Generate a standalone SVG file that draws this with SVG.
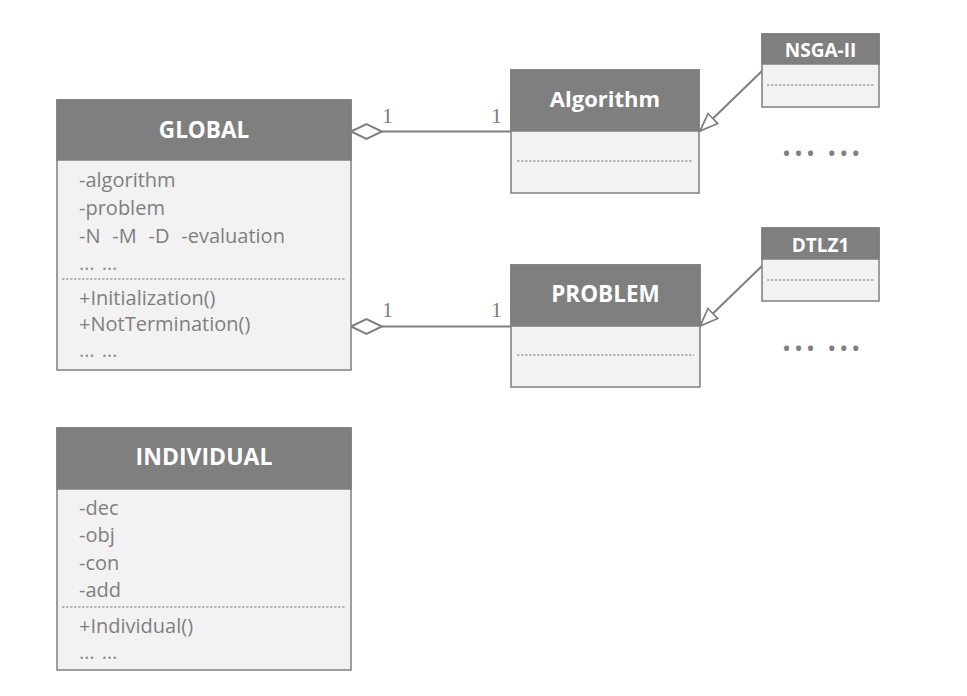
<svg xmlns="http://www.w3.org/2000/svg" width="967" height="696" viewBox="0 0 967 696">
<style>
.body{fill:#f2f2f2;stroke:#7f7f7f;stroke-width:1.5}
.head{fill:#7f7f7f;stroke:#7f7f7f;stroke-width:1.5}
.title{font-family:"Open Sans","Liberation Sans",sans-serif;font-weight:bold;fill:#ffffff;text-anchor:middle}
.txt{font-family:"Open Sans","Liberation Sans",sans-serif;font-size:20px;fill:#7f7f7f}
.ell{font-family:"Open Sans","Liberation Sans",sans-serif;font-size:20px;fill:#8c8c8c;letter-spacing:1px}
.dash{stroke:#7f7f7f;stroke-width:1;stroke-dasharray:2.5,1.5}
.conn{stroke:#7f7f7f;stroke-width:2;fill:none}
.num{font-family:"Liberation Serif",serif;font-size:22px;fill:#7f7f7f}
.dots{font-family:"Open Sans","Liberation Sans",sans-serif;font-size:24px;fill:#7f7f7f;letter-spacing:3px}
</style>
<defs>
<marker id="gen" markerWidth="22" markerHeight="18" refX="19" refY="8" orient="auto" markerUnits="userSpaceOnUse">
<path d="M1,1 L19,8 L1,15 Z" fill="#ffffff" stroke="#7f7f7f" stroke-width="1.8"/>
</marker>
</defs>
<rect width="967" height="696" fill="#ffffff"/>
<g id="connectors">
<path class="conn" d="M382,131.5 L511,131.5"/>
<path d="M351,131.5 L366.5,124 L382,131.5 L366.5,139 Z" fill="#ffffff" stroke="#7f7f7f" stroke-width="2"/>
<path class="conn" d="M382,326.5 L511,326.5"/>
<path d="M351,326.5 L366.5,319 L382,326.5 L366.5,334 Z" fill="#ffffff" stroke="#7f7f7f" stroke-width="2"/>
<path class="conn" d="M762,71 L700,131" marker-end="url(#gen)"/>
<path class="conn" d="M762,266 L700,326" marker-end="url(#gen)"/>
<text class="num" x="382" y="123">1</text>
<text class="num" x="491" y="123">1</text>
<text class="num" x="382" y="317">1</text>
<text class="num" x="491" y="317">1</text>
</g>
<g id="global">
<rect class="body" x="57" y="100" width="294" height="270"/>
<rect class="head" x="57" y="100" width="294" height="60"/>
<text class="title" x="204" y="138" font-size="22.5">GLOBAL</text>
<text class="txt" x="79" y="187">-algorithm</text>
<text class="txt" x="79" y="215">-problem</text>
<text class="txt" x="79" y="243" xml:space="preserve" word-spacing="0.7">-N  -M  -D  -evaluation</text>
<text class="ell" x="79" y="270">… …</text>
<line class="dash" x1="62" y1="279" x2="346" y2="279"/>
<text class="txt" x="79" y="305">+Initialization()</text>
<text class="txt" x="79" y="331">+NotTermination()</text>
<text class="ell" x="79" y="357">… …</text>
</g>
<g id="algorithm">
<rect class="body" x="511" y="70" width="188" height="123"/>
<rect class="head" x="511" y="70" width="188" height="61"/>
<text class="title" x="605" y="107" font-size="22">Algorithm</text>
<line class="dash" x1="517" y1="161" x2="693" y2="161"/>
</g>
<g id="nsga2">
<rect class="body" x="762" y="34" width="117" height="73"/>
<rect class="head" x="762" y="34" width="117" height="30"/>
<text class="title" x="820.5" y="57" font-size="19">NSGA-II</text>
<line class="dash" x1="767" y1="85" x2="874" y2="85"/>
</g>
<text class="dots" x="782" y="162">••• •••</text>
<g id="problem">
<rect class="body" x="511" y="265" width="189" height="122"/>
<rect class="head" x="511" y="265" width="189" height="61"/>
<text class="title" x="605.5" y="302" font-size="22.5">PROBLEM</text>
<line class="dash" x1="517" y1="355" x2="694" y2="355"/>
</g>
<g id="dtlz1">
<rect class="body" x="762" y="228" width="117" height="73"/>
<rect class="head" x="762" y="228" width="117" height="31"/>
<text class="title" x="820.5" y="252" font-size="19">DTLZ1</text>
<line class="dash" x1="767" y1="280" x2="874" y2="280"/>
</g>
<text class="dots" x="782" y="357">••• •••</text>
<g id="individual">
<rect class="body" x="57" y="428" width="294" height="242"/>
<rect class="head" x="57" y="428" width="294" height="61"/>
<text class="title" x="204" y="465" font-size="23">INDIVIDUAL</text>
<text class="txt" x="79" y="515">-dec</text>
<text class="txt" x="79" y="542">-obj</text>
<text class="txt" x="79" y="570">-con</text>
<text class="txt" x="79" y="597">-add</text>
<line class="dash" x1="62" y1="607" x2="346" y2="607"/>
<text class="txt" x="79" y="633">+Individual()</text>
<text class="ell" x="79" y="659">… …</text>
</g>
</svg>
